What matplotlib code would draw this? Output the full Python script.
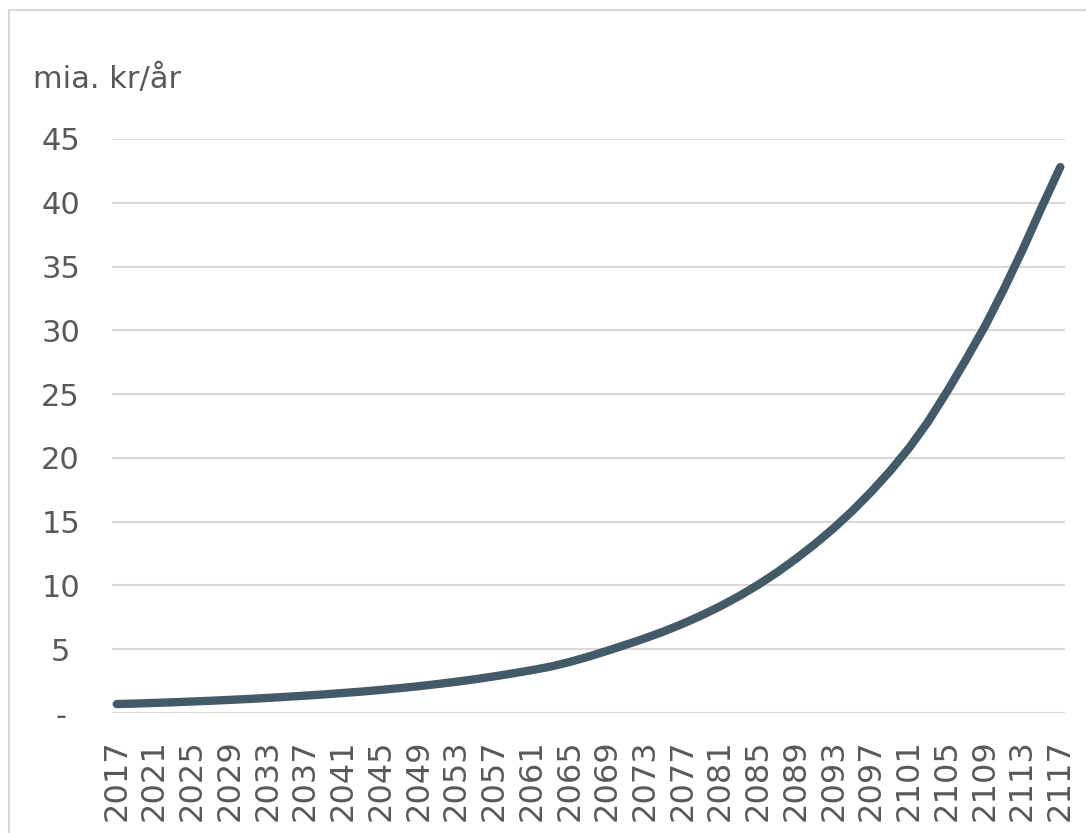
import matplotlib
matplotlib.use("Agg")
import matplotlib.pyplot as plt
from matplotlib.lines import Line2D

# values (every 2nd year)
years = list(range(2017, 2118, 2))
values = [0.70, 0.74, 0.79, 0.84, 0.90, 0.96, 1.03, 1.10, 1.18, 1.27,
          1.36, 1.46, 1.57, 1.68, 1.81, 1.95, 2.10, 2.27, 2.45, 2.65,
          2.87, 3.11, 3.36, 3.64, 4.00, 4.42, 4.88, 5.36, 5.86, 6.40,
          7.00, 7.66, 8.38, 9.18, 10.06, 11.03, 12.10, 13.25, 14.50, 15.87,
          17.37, 19.00, 20.80, 22.85, 25.20, 27.70, 30.30, 33.20, 36.30, 39.60,
          42.80]
tick_years = list(range(2017, 2118, 4))
y_ticks = [0, 5, 10, 15, 20, 25, 30, 35, 40, 45]
y_labels = ["-", "5", "10", "15", "20", "25", "30", "35", "40", "45"]
unit = "mia. kr/år"

TEXT = "#595959"
LINE = "#435A69"
GRID = "#D9D9D9"

fig = plt.figure(figsize=(10.86, 8.33), dpi=100)
ax = fig.add_axes([112 / 1086, 1 - 713 / 833, 953 / 1086, 574 / 833])

ax.plot(years, values, color=LINE, lw=6, solid_capstyle="round", solid_joinstyle="round")

ax.set_xlim(2016.5, 2117.5)
ax.set_ylim(0, 45)
ax.set_yticks(y_ticks)
ax.set_yticklabels(y_labels)
ax.set_xticks(tick_years)
ax.set_xticklabels([str(y) for y in tick_years], rotation=90)

ax.tick_params(axis="both", length=0, colors=TEXT)
ax.tick_params(axis="y", labelsize=22, pad=37)
ax.tick_params(axis="x", labelsize=23, pad=19)
for lab in ax.get_yticklabels():
    lab.set_horizontalalignment("center")

ax.grid(axis="y", color=GRID, lw=1.5)
ax.set_axisbelow(True)
for s in ax.spines.values():
    s.set_visible(False)

fig.text(33 / 1086, 1 - 79 / 833, unit, fontsize=22, color=TEXT, va="center", ha="left")

# chart frame (only top and left edges visible)
fig.add_artist(Line2D([9 / 1086, 1], [1 - 10 / 833] * 2, color="#D9D9D9", lw=1.5))
fig.add_artist(Line2D([9 / 1086] * 2, [0, 1 - 10 / 833], color="#D9D9D9", lw=1.5))

fig.savefig("out.png", dpi=100)
